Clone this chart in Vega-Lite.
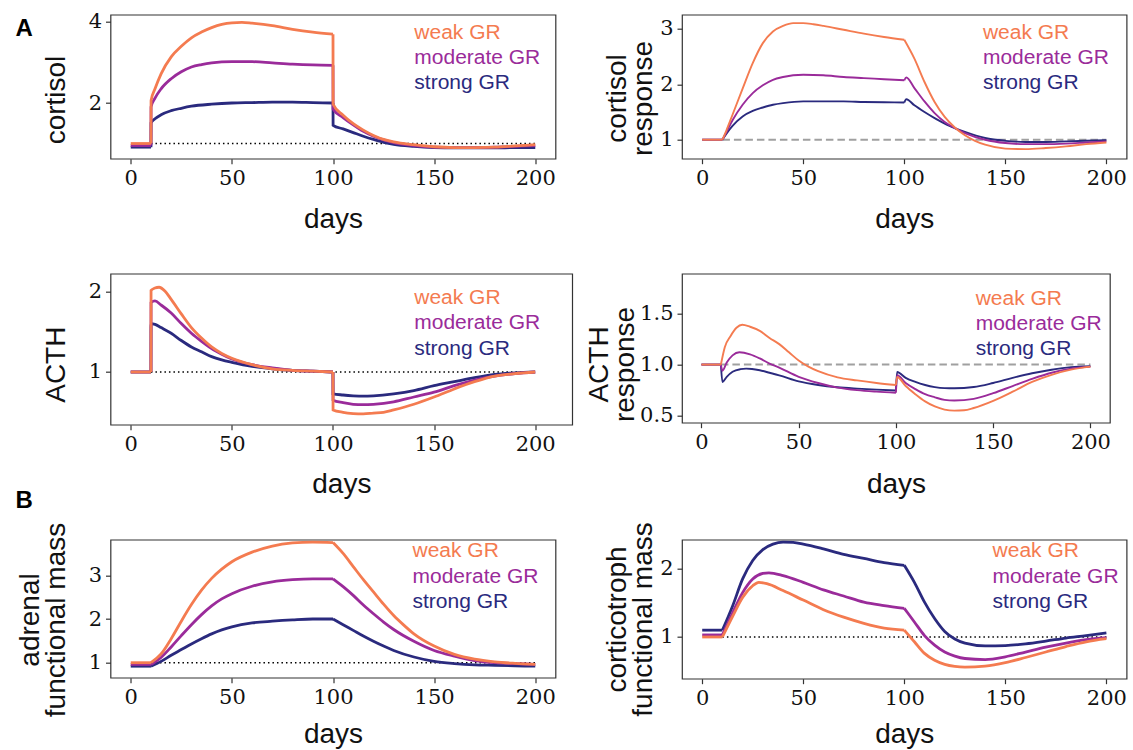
{
"$schema":"https://vega.github.io/schema/vega-lite/v6.json",
"background":"white",
"padding":{"left":14.5,"top":9.7,"right":0,"bottom":0},
"config":{
 "view":{"stroke":"#333","strokeWidth":1.2},
 "axis":{"domain":false,"grid":false,"ticks":true,"tickColor":"#333","tickSize":5,"tickWidth":1.2,"labelFont":"DejaVu Serif","labelFontSize":21,"labelColor":"#111","labelPadding":4,"labelFlush":false,"labelOverlap":false,"titleFont":"Liberation Sans","titleFontSize":28,"titleFontWeight":"normal","titleColor":"#111","titleLineHeight":26,"minExtent":0},
 "axisY":{"minExtent":0}
},
"columns":2,
"bounds":"flush",
"align":{"row":"each","column":"none"},
"spacing":{"row":115,"column":109.5},
"datasets":{
"base":[{"p":1,"d":10,"d2":200,"v":1},{"p":2,"d":10,"d2":200,"v":1},{"p":3,"d":10,"d2":200,"v":1},{"p":4,"d":10,"d2":200,"v":1},{"p":5,"d":10,"d2":200,"v":1},{"p":6,"d":10,"d2":200,"v":1}],
"lab":[
{"p":1,"g":"weak","t":"weak GR","d":140.2,"v":3.59},{"p":1,"g":"moderate","t":"moderate GR","d":140.2,"v":2.97},{"p":1,"g":"strong","t":"strong GR","d":140.2,"v":2.34},
{"p":2,"g":"weak","t":"weak GR","d":138.9,"v":2.82},{"p":2,"g":"moderate","t":"moderate GR","d":138.9,"v":2.357},{"p":2,"g":"strong","t":"strong GR","d":138.9,"v":1.907},
{"p":3,"g":"weak","t":"weak GR","d":140.2,"v":1.847},{"p":3,"g":"moderate","t":"moderate GR","d":140.2,"v":1.529},{"p":3,"g":"strong","t":"strong GR","d":140.2,"v":1.215},
{"p":4,"g":"weak","t":"weak GR","d":141,"v":1.587},{"p":4,"g":"moderate","t":"moderate GR","d":141,"v":1.337},{"p":4,"g":"strong","t":"strong GR","d":141,"v":1.097},
{"p":5,"g":"weak","t":"weak GR","d":139.3,"v":3.42},{"p":5,"g":"moderate","t":"moderate GR","d":139.3,"v":2.83},{"p":5,"g":"strong","t":"strong GR","d":139.3,"v":2.25},
{"p":6,"g":"weak","t":"weak GR","d":143.7,"v":2.17},{"p":6,"g":"moderate","t":"moderate GR","d":143.7,"v":1.795},{"p":6,"g":"strong","t":"strong GR","d":143.7,"v":1.424}
],
"c":[
{"p":1,"g":"strong","s":0,"d":0,"v":0.91},{"p":1,"g":"strong","s":0,"d":10,"v":0.91},
{"p":1,"g":"strong","s":1,"d":10,"v":0.91},{"p":1,"g":"strong","s":1,"d":10.05,"v":1.51},{"p":1,"g":"strong","s":1,"d":12,"v":1.61},{"p":1,"g":"strong","s":1,"d":15,"v":1.71},{"p":1,"g":"strong","s":1,"d":20,"v":1.81},{"p":1,"g":"strong","s":1,"d":25,"v":1.87},{"p":1,"g":"strong","s":1,"d":30,"v":1.92},{"p":1,"g":"strong","s":1,"d":40,"v":1.97},{"p":1,"g":"strong","s":1,"d":50,"v":2.0},{"p":1,"g":"strong","s":1,"d":60,"v":2.01},{"p":1,"g":"strong","s":1,"d":70,"v":2.02},{"p":1,"g":"strong","s":1,"d":80,"v":2.02},{"p":1,"g":"strong","s":1,"d":90,"v":2.01},{"p":1,"g":"strong","s":1,"d":100,"v":2.0},
{"p":1,"g":"strong","s":2,"d":100,"v":2.0},{"p":1,"g":"strong","s":2,"d":100.05,"v":1.45},{"p":1,"g":"strong","s":2,"d":105,"v":1.36},{"p":1,"g":"strong","s":2,"d":110,"v":1.27},{"p":1,"g":"strong","s":2,"d":115,"v":1.18},{"p":1,"g":"strong","s":2,"d":120,"v":1.1},{"p":1,"g":"strong","s":2,"d":125,"v":1.03},{"p":1,"g":"strong","s":2,"d":130,"v":0.98},{"p":1,"g":"strong","s":2,"d":140,"v":0.93},{"p":1,"g":"strong","s":2,"d":150,"v":0.9},{"p":1,"g":"strong","s":2,"d":160,"v":0.89},{"p":1,"g":"strong","s":2,"d":170,"v":0.89},{"p":1,"g":"strong","s":2,"d":180,"v":0.89},{"p":1,"g":"strong","s":2,"d":190,"v":0.9},{"p":1,"g":"strong","s":2,"d":200,"v":0.9},
{"p":1,"g":"moderate","s":0,"d":0,"v":0.95},{"p":1,"g":"moderate","s":0,"d":10,"v":0.95},
{"p":1,"g":"moderate","s":1,"d":10,"v":0.95},{"p":1,"g":"moderate","s":1,"d":10.05,"v":1.9},{"p":1,"g":"moderate","s":1,"d":12,"v":2.12},{"p":1,"g":"moderate","s":1,"d":15,"v":2.35},{"p":1,"g":"moderate","s":1,"d":20,"v":2.6},{"p":1,"g":"moderate","s":1,"d":25,"v":2.77},{"p":1,"g":"moderate","s":1,"d":30,"v":2.89},{"p":1,"g":"moderate","s":1,"d":35,"v":2.95},{"p":1,"g":"moderate","s":1,"d":40,"v":2.99},{"p":1,"g":"moderate","s":1,"d":50,"v":3.02},{"p":1,"g":"moderate","s":1,"d":60,"v":3.02},{"p":1,"g":"moderate","s":1,"d":70,"v":2.99},{"p":1,"g":"moderate","s":1,"d":80,"v":2.96},{"p":1,"g":"moderate","s":1,"d":90,"v":2.94},{"p":1,"g":"moderate","s":1,"d":100,"v":2.93},
{"p":1,"g":"moderate","s":2,"d":100,"v":2.93},{"p":1,"g":"moderate","s":2,"d":100.05,"v":1.85},{"p":1,"g":"moderate","s":2,"d":105,"v":1.64},{"p":1,"g":"moderate","s":2,"d":110,"v":1.46},{"p":1,"g":"moderate","s":2,"d":115,"v":1.3},{"p":1,"g":"moderate","s":2,"d":120,"v":1.18},{"p":1,"g":"moderate","s":2,"d":125,"v":1.09},{"p":1,"g":"moderate","s":2,"d":130,"v":1.02},{"p":1,"g":"moderate","s":2,"d":140,"v":0.95},{"p":1,"g":"moderate","s":2,"d":150,"v":0.91},{"p":1,"g":"moderate","s":2,"d":160,"v":0.9},{"p":1,"g":"moderate","s":2,"d":170,"v":0.9},{"p":1,"g":"moderate","s":2,"d":180,"v":0.91},{"p":1,"g":"moderate","s":2,"d":190,"v":0.93},{"p":1,"g":"moderate","s":2,"d":200,"v":0.95},
{"p":1,"g":"weak","s":0,"d":0,"v":1.0},{"p":1,"g":"weak","s":0,"d":10,"v":1.0},
{"p":1,"g":"weak","s":1,"d":10,"v":1.0},{"p":1,"g":"weak","s":1,"d":10.05,"v":2.06},{"p":1,"g":"weak","s":1,"d":12,"v":2.35},{"p":1,"g":"weak","s":1,"d":15,"v":2.72},{"p":1,"g":"weak","s":1,"d":20,"v":3.14},{"p":1,"g":"weak","s":1,"d":25,"v":3.4},{"p":1,"g":"weak","s":1,"d":30,"v":3.61},{"p":1,"g":"weak","s":1,"d":35,"v":3.75},{"p":1,"g":"weak","s":1,"d":40,"v":3.86},{"p":1,"g":"weak","s":1,"d":45,"v":3.94},{"p":1,"g":"weak","s":1,"d":50,"v":3.98},{"p":1,"g":"weak","s":1,"d":55,"v":3.99},{"p":1,"g":"weak","s":1,"d":60,"v":3.97},{"p":1,"g":"weak","s":1,"d":70,"v":3.91},{"p":1,"g":"weak","s":1,"d":80,"v":3.82},{"p":1,"g":"weak","s":1,"d":90,"v":3.75},{"p":1,"g":"weak","s":1,"d":100,"v":3.7},
{"p":1,"g":"weak","s":2,"d":100,"v":3.7},{"p":1,"g":"weak","s":2,"d":100.05,"v":1.97},{"p":1,"g":"weak","s":2,"d":105,"v":1.7},{"p":1,"g":"weak","s":2,"d":110,"v":1.49},{"p":1,"g":"weak","s":2,"d":115,"v":1.33},{"p":1,"g":"weak","s":2,"d":120,"v":1.2},{"p":1,"g":"weak","s":2,"d":125,"v":1.1},{"p":1,"g":"weak","s":2,"d":130,"v":1.04},{"p":1,"g":"weak","s":2,"d":140,"v":0.97},{"p":1,"g":"weak","s":2,"d":150,"v":0.92},{"p":1,"g":"weak","s":2,"d":160,"v":0.9},{"p":1,"g":"weak","s":2,"d":170,"v":0.9},{"p":1,"g":"weak","s":2,"d":180,"v":0.91},{"p":1,"g":"weak","s":2,"d":190,"v":0.94},{"p":1,"g":"weak","s":2,"d":200,"v":0.97},

{"p":2,"g":"strong","s":0,"d":0,"v":1},{"p":2,"g":"strong","s":0,"d":10,"v":1},
{"p":2,"g":"strong","s":1,"d":10,"v":1},{"p":2,"g":"strong","s":1,"d":12,"v":1.11},{"p":2,"g":"strong","s":1,"d":15,"v":1.25},{"p":2,"g":"strong","s":1,"d":20,"v":1.42},{"p":2,"g":"strong","s":1,"d":25,"v":1.52},{"p":2,"g":"strong","s":1,"d":30,"v":1.58},{"p":2,"g":"strong","s":1,"d":35,"v":1.63},{"p":2,"g":"strong","s":1,"d":40,"v":1.66},{"p":2,"g":"strong","s":1,"d":50,"v":1.69},{"p":2,"g":"strong","s":1,"d":60,"v":1.69},{"p":2,"g":"strong","s":1,"d":70,"v":1.69},{"p":2,"g":"strong","s":1,"d":80,"v":1.68},{"p":2,"g":"strong","s":1,"d":90,"v":1.675},{"p":2,"g":"strong","s":1,"d":100,"v":1.67},
{"p":2,"g":"strong","s":2,"d":100,"v":1.67},{"p":2,"g":"strong","s":2,"d":101,"v":1.73},{"p":2,"g":"strong","s":2,"d":105,"v":1.62},{"p":2,"g":"strong","s":2,"d":110,"v":1.5},{"p":2,"g":"strong","s":2,"d":115,"v":1.39},{"p":2,"g":"strong","s":2,"d":120,"v":1.29},{"p":2,"g":"strong","s":2,"d":125,"v":1.21},{"p":2,"g":"strong","s":2,"d":130,"v":1.14},{"p":2,"g":"strong","s":2,"d":140,"v":1.03},{"p":2,"g":"strong","s":2,"d":150,"v":0.98},{"p":2,"g":"strong","s":2,"d":160,"v":0.96},{"p":2,"g":"strong","s":2,"d":170,"v":0.96},{"p":2,"g":"strong","s":2,"d":180,"v":0.97},{"p":2,"g":"strong","s":2,"d":190,"v":0.98},{"p":2,"g":"strong","s":2,"d":200,"v":0.99},
{"p":2,"g":"moderate","s":0,"d":0,"v":1},{"p":2,"g":"moderate","s":0,"d":10,"v":1},
{"p":2,"g":"moderate","s":1,"d":10,"v":1},{"p":2,"g":"moderate","s":1,"d":12,"v":1.14},{"p":2,"g":"moderate","s":1,"d":15,"v":1.35},{"p":2,"g":"moderate","s":1,"d":20,"v":1.63},{"p":2,"g":"moderate","s":1,"d":25,"v":1.84},{"p":2,"g":"moderate","s":1,"d":30,"v":1.98},{"p":2,"g":"moderate","s":1,"d":35,"v":2.08},{"p":2,"g":"moderate","s":1,"d":40,"v":2.13},{"p":2,"g":"moderate","s":1,"d":50,"v":2.17},{"p":2,"g":"moderate","s":1,"d":60,"v":2.16},{"p":2,"g":"moderate","s":1,"d":70,"v":2.13},{"p":2,"g":"moderate","s":1,"d":80,"v":2.11},{"p":2,"g":"moderate","s":1,"d":90,"v":2.09},{"p":2,"g":"moderate","s":1,"d":100,"v":2.07},
{"p":2,"g":"moderate","s":2,"d":100,"v":2.07},{"p":2,"g":"moderate","s":2,"d":101,"v":2.12},{"p":2,"g":"moderate","s":2,"d":105,"v":1.93},{"p":2,"g":"moderate","s":2,"d":110,"v":1.69},{"p":2,"g":"moderate","s":2,"d":115,"v":1.48},{"p":2,"g":"moderate","s":2,"d":120,"v":1.32},{"p":2,"g":"moderate","s":2,"d":125,"v":1.21},{"p":2,"g":"moderate","s":2,"d":130,"v":1.12},{"p":2,"g":"moderate","s":2,"d":140,"v":1.0},{"p":2,"g":"moderate","s":2,"d":150,"v":0.94},{"p":2,"g":"moderate","s":2,"d":160,"v":0.92},{"p":2,"g":"moderate","s":2,"d":170,"v":0.92},{"p":2,"g":"moderate","s":2,"d":180,"v":0.93},{"p":2,"g":"moderate","s":2,"d":190,"v":0.95},{"p":2,"g":"moderate","s":2,"d":200,"v":0.97},
{"p":2,"g":"weak","s":0,"d":0,"v":1},{"p":2,"g":"weak","s":0,"d":10,"v":1},
{"p":2,"g":"weak","s":1,"d":10,"v":1},{"p":2,"g":"weak","s":1,"d":12,"v":1.17},{"p":2,"g":"weak","s":1,"d":15,"v":1.45},{"p":2,"g":"weak","s":1,"d":20,"v":1.92},{"p":2,"g":"weak","s":1,"d":25,"v":2.38},{"p":2,"g":"weak","s":1,"d":30,"v":2.74},{"p":2,"g":"weak","s":1,"d":35,"v":2.95},{"p":2,"g":"weak","s":1,"d":40,"v":3.05},{"p":2,"g":"weak","s":1,"d":45,"v":3.1},{"p":2,"g":"weak","s":1,"d":50,"v":3.1},{"p":2,"g":"weak","s":1,"d":55,"v":3.08},{"p":2,"g":"weak","s":1,"d":60,"v":3.05},{"p":2,"g":"weak","s":1,"d":70,"v":2.98},{"p":2,"g":"weak","s":1,"d":80,"v":2.91},{"p":2,"g":"weak","s":1,"d":90,"v":2.85},{"p":2,"g":"weak","s":1,"d":100,"v":2.8},
{"p":2,"g":"weak","s":2,"d":100,"v":2.8},{"p":2,"g":"weak","s":2,"d":105,"v":2.46},{"p":2,"g":"weak","s":2,"d":110,"v":2.04},{"p":2,"g":"weak","s":2,"d":115,"v":1.68},{"p":2,"g":"weak","s":2,"d":120,"v":1.41},{"p":2,"g":"weak","s":2,"d":125,"v":1.22},{"p":2,"g":"weak","s":2,"d":130,"v":1.08},{"p":2,"g":"weak","s":2,"d":135,"v":0.98},{"p":2,"g":"weak","s":2,"d":140,"v":0.91},{"p":2,"g":"weak","s":2,"d":150,"v":0.84},{"p":2,"g":"weak","s":2,"d":160,"v":0.83},{"p":2,"g":"weak","s":2,"d":170,"v":0.85},{"p":2,"g":"weak","s":2,"d":180,"v":0.88},{"p":2,"g":"weak","s":2,"d":190,"v":0.92},{"p":2,"g":"weak","s":2,"d":200,"v":0.95},

{"p":3,"g":"strong","s":0,"d":0,"v":1},{"p":3,"g":"strong","s":0,"d":10,"v":1},
{"p":3,"g":"strong","s":1,"d":10,"v":1},{"p":3,"g":"strong","s":1,"d":10.05,"v":1.6},{"p":3,"g":"strong","s":1,"d":12,"v":1.59},{"p":3,"g":"strong","s":1,"d":15,"v":1.55},{"p":3,"g":"strong","s":1,"d":20,"v":1.48},{"p":3,"g":"strong","s":1,"d":25,"v":1.39},{"p":3,"g":"strong","s":1,"d":30,"v":1.31},{"p":3,"g":"strong","s":1,"d":35,"v":1.25},{"p":3,"g":"strong","s":1,"d":40,"v":1.19},{"p":3,"g":"strong","s":1,"d":45,"v":1.15},{"p":3,"g":"strong","s":1,"d":50,"v":1.12},{"p":3,"g":"strong","s":1,"d":60,"v":1.07},{"p":3,"g":"strong","s":1,"d":70,"v":1.04},{"p":3,"g":"strong","s":1,"d":80,"v":1.02},{"p":3,"g":"strong","s":1,"d":90,"v":1.01},{"p":3,"g":"strong","s":1,"d":100,"v":1.0},
{"p":3,"g":"strong","s":2,"d":100,"v":1.0},{"p":3,"g":"strong","s":2,"d":100.05,"v":0.73},{"p":3,"g":"strong","s":2,"d":105,"v":0.715},{"p":3,"g":"strong","s":2,"d":110,"v":0.705},{"p":3,"g":"strong","s":2,"d":115,"v":0.7},{"p":3,"g":"strong","s":2,"d":120,"v":0.705},{"p":3,"g":"strong","s":2,"d":130,"v":0.73},{"p":3,"g":"strong","s":2,"d":140,"v":0.77},{"p":3,"g":"strong","s":2,"d":150,"v":0.83},{"p":3,"g":"strong","s":2,"d":160,"v":0.88},{"p":3,"g":"strong","s":2,"d":170,"v":0.93},{"p":3,"g":"strong","s":2,"d":180,"v":0.97},{"p":3,"g":"strong","s":2,"d":190,"v":0.99},{"p":3,"g":"strong","s":2,"d":200,"v":1.0},
{"p":3,"g":"moderate","s":0,"d":0,"v":1},{"p":3,"g":"moderate","s":0,"d":10,"v":1},
{"p":3,"g":"moderate","s":1,"d":10,"v":1},{"p":3,"g":"moderate","s":1,"d":10.05,"v":1.86},{"p":3,"g":"moderate","s":1,"d":12,"v":1.88},{"p":3,"g":"moderate","s":1,"d":15,"v":1.83},{"p":3,"g":"moderate","s":1,"d":20,"v":1.73},{"p":3,"g":"moderate","s":1,"d":25,"v":1.6},{"p":3,"g":"moderate","s":1,"d":30,"v":1.48},{"p":3,"g":"moderate","s":1,"d":35,"v":1.38},{"p":3,"g":"moderate","s":1,"d":40,"v":1.29},{"p":3,"g":"moderate","s":1,"d":45,"v":1.22},{"p":3,"g":"moderate","s":1,"d":50,"v":1.16},{"p":3,"g":"moderate","s":1,"d":60,"v":1.09},{"p":3,"g":"moderate","s":1,"d":70,"v":1.05},{"p":3,"g":"moderate","s":1,"d":80,"v":1.02},{"p":3,"g":"moderate","s":1,"d":90,"v":1.01},{"p":3,"g":"moderate","s":1,"d":100,"v":1.0},
{"p":3,"g":"moderate","s":2,"d":100,"v":1.0},{"p":3,"g":"moderate","s":2,"d":100.05,"v":0.65},{"p":3,"g":"moderate","s":2,"d":105,"v":0.62},{"p":3,"g":"moderate","s":2,"d":110,"v":0.6},{"p":3,"g":"moderate","s":2,"d":115,"v":0.595},{"p":3,"g":"moderate","s":2,"d":120,"v":0.6},{"p":3,"g":"moderate","s":2,"d":130,"v":0.63},{"p":3,"g":"moderate","s":2,"d":140,"v":0.69},{"p":3,"g":"moderate","s":2,"d":150,"v":0.75},{"p":3,"g":"moderate","s":2,"d":160,"v":0.83},{"p":3,"g":"moderate","s":2,"d":170,"v":0.9},{"p":3,"g":"moderate","s":2,"d":180,"v":0.95},{"p":3,"g":"moderate","s":2,"d":190,"v":0.98},{"p":3,"g":"moderate","s":2,"d":200,"v":1.0},
{"p":3,"g":"weak","s":0,"d":0,"v":1},{"p":3,"g":"weak","s":0,"d":10,"v":1},
{"p":3,"g":"weak","s":1,"d":10,"v":1},{"p":3,"g":"weak","s":1,"d":10.05,"v":2.01},{"p":3,"g":"weak","s":1,"d":12,"v":2.04},{"p":3,"g":"weak","s":1,"d":14,"v":2.05},{"p":3,"g":"weak","s":1,"d":17,"v":2.0},{"p":3,"g":"weak","s":1,"d":20,"v":1.9},{"p":3,"g":"weak","s":1,"d":25,"v":1.72},{"p":3,"g":"weak","s":1,"d":30,"v":1.55},{"p":3,"g":"weak","s":1,"d":35,"v":1.42},{"p":3,"g":"weak","s":1,"d":40,"v":1.31},{"p":3,"g":"weak","s":1,"d":45,"v":1.23},{"p":3,"g":"weak","s":1,"d":50,"v":1.17},{"p":3,"g":"weak","s":1,"d":60,"v":1.09},{"p":3,"g":"weak","s":1,"d":70,"v":1.04},{"p":3,"g":"weak","s":1,"d":80,"v":1.02},{"p":3,"g":"weak","s":1,"d":90,"v":1.01},{"p":3,"g":"weak","s":1,"d":100,"v":1.0},
{"p":3,"g":"weak","s":2,"d":100,"v":1.0},{"p":3,"g":"weak","s":2,"d":100.05,"v":0.53},{"p":3,"g":"weak","s":2,"d":105,"v":0.5},{"p":3,"g":"weak","s":2,"d":110,"v":0.485},{"p":3,"g":"weak","s":2,"d":115,"v":0.48},{"p":3,"g":"weak","s":2,"d":120,"v":0.49},{"p":3,"g":"weak","s":2,"d":125,"v":0.5},{"p":3,"g":"weak","s":2,"d":130,"v":0.53},{"p":3,"g":"weak","s":2,"d":140,"v":0.6},{"p":3,"g":"weak","s":2,"d":150,"v":0.69},{"p":3,"g":"weak","s":2,"d":160,"v":0.79},{"p":3,"g":"weak","s":2,"d":170,"v":0.88},{"p":3,"g":"weak","s":2,"d":180,"v":0.95},{"p":3,"g":"weak","s":2,"d":190,"v":0.98},{"p":3,"g":"weak","s":2,"d":200,"v":1.0},

{"p":4,"g":"strong","s":0,"d":0,"v":1},{"p":4,"g":"strong","s":0,"d":10,"v":1},
{"p":4,"g":"strong","s":1,"d":10,"v":1},{"p":4,"g":"strong","s":1,"d":10.8,"v":0.83},{"p":4,"g":"strong","s":1,"d":13,"v":0.88},{"p":4,"g":"strong","s":1,"d":16,"v":0.93},{"p":4,"g":"strong","s":1,"d":20,"v":0.955},{"p":4,"g":"strong","s":1,"d":23,"v":0.96},{"p":4,"g":"strong","s":1,"d":26,"v":0.957},{"p":4,"g":"strong","s":1,"d":30,"v":0.944},{"p":4,"g":"strong","s":1,"d":35,"v":0.92},{"p":4,"g":"strong","s":1,"d":40,"v":0.895},{"p":4,"g":"strong","s":1,"d":50,"v":0.835},{"p":4,"g":"strong","s":1,"d":60,"v":0.8},{"p":4,"g":"strong","s":1,"d":70,"v":0.778},{"p":4,"g":"strong","s":1,"d":80,"v":0.765},{"p":4,"g":"strong","s":1,"d":90,"v":0.755},{"p":4,"g":"strong","s":1,"d":100,"v":0.747},
{"p":4,"g":"strong","s":2,"d":100,"v":0.747},{"p":4,"g":"strong","s":2,"d":100.6,"v":0.928},{"p":4,"g":"strong","s":2,"d":105,"v":0.87},{"p":4,"g":"strong","s":2,"d":110,"v":0.83},{"p":4,"g":"strong","s":2,"d":115,"v":0.8},{"p":4,"g":"strong","s":2,"d":120,"v":0.78},{"p":4,"g":"strong","s":2,"d":125,"v":0.77},{"p":4,"g":"strong","s":2,"d":130,"v":0.768},{"p":4,"g":"strong","s":2,"d":140,"v":0.78},{"p":4,"g":"strong","s":2,"d":150,"v":0.82},{"p":4,"g":"strong","s":2,"d":160,"v":0.87},{"p":4,"g":"strong","s":2,"d":170,"v":0.915},{"p":4,"g":"strong","s":2,"d":180,"v":0.95},{"p":4,"g":"strong","s":2,"d":190,"v":0.975},{"p":4,"g":"strong","s":2,"d":200,"v":0.985},
{"p":4,"g":"moderate","s":0,"d":0,"v":1},{"p":4,"g":"moderate","s":0,"d":10,"v":1},
{"p":4,"g":"moderate","s":1,"d":10,"v":1},{"p":4,"g":"moderate","s":1,"d":10.8,"v":0.94},{"p":4,"g":"moderate","s":1,"d":13,"v":1.02},{"p":4,"g":"moderate","s":1,"d":16,"v":1.09},{"p":4,"g":"moderate","s":1,"d":19.5,"v":1.12},{"p":4,"g":"moderate","s":1,"d":25,"v":1.1},{"p":4,"g":"moderate","s":1,"d":30,"v":1.06},{"p":4,"g":"moderate","s":1,"d":35,"v":1.01},{"p":4,"g":"moderate","s":1,"d":40,"v":0.97},{"p":4,"g":"moderate","s":1,"d":50,"v":0.88},{"p":4,"g":"moderate","s":1,"d":60,"v":0.82},{"p":4,"g":"moderate","s":1,"d":70,"v":0.775},{"p":4,"g":"moderate","s":1,"d":80,"v":0.75},{"p":4,"g":"moderate","s":1,"d":90,"v":0.735},{"p":4,"g":"moderate","s":1,"d":100,"v":0.724},
{"p":4,"g":"moderate","s":2,"d":100,"v":0.724},{"p":4,"g":"moderate","s":2,"d":100.6,"v":0.895},{"p":4,"g":"moderate","s":2,"d":105,"v":0.82},{"p":4,"g":"moderate","s":2,"d":110,"v":0.76},{"p":4,"g":"moderate","s":2,"d":115,"v":0.71},{"p":4,"g":"moderate","s":2,"d":120,"v":0.68},{"p":4,"g":"moderate","s":2,"d":125,"v":0.655},{"p":4,"g":"moderate","s":2,"d":130,"v":0.648},{"p":4,"g":"moderate","s":2,"d":140,"v":0.665},{"p":4,"g":"moderate","s":2,"d":150,"v":0.72},{"p":4,"g":"moderate","s":2,"d":160,"v":0.79},{"p":4,"g":"moderate","s":2,"d":170,"v":0.86},{"p":4,"g":"moderate","s":2,"d":180,"v":0.92},{"p":4,"g":"moderate","s":2,"d":190,"v":0.96},{"p":4,"g":"moderate","s":2,"d":200,"v":0.98},
{"p":4,"g":"weak","s":0,"d":0,"v":1},{"p":4,"g":"weak","s":0,"d":10,"v":1},
{"p":4,"g":"weak","s":1,"d":10,"v":1},{"p":4,"g":"weak","s":1,"d":12,"v":1.17},{"p":4,"g":"weak","s":1,"d":15,"v":1.28},{"p":4,"g":"weak","s":1,"d":18,"v":1.36},{"p":4,"g":"weak","s":1,"d":21,"v":1.39},{"p":4,"g":"weak","s":1,"d":25,"v":1.37},{"p":4,"g":"weak","s":1,"d":30,"v":1.33},{"p":4,"g":"weak","s":1,"d":35,"v":1.26},{"p":4,"g":"weak","s":1,"d":40,"v":1.2},{"p":4,"g":"weak","s":1,"d":45,"v":1.12},{"p":4,"g":"weak","s":1,"d":50,"v":1.04},{"p":4,"g":"weak","s":1,"d":55,"v":0.98},{"p":4,"g":"weak","s":1,"d":60,"v":0.935},{"p":4,"g":"weak","s":1,"d":70,"v":0.875},{"p":4,"g":"weak","s":1,"d":80,"v":0.845},{"p":4,"g":"weak","s":1,"d":90,"v":0.82},{"p":4,"g":"weak","s":1,"d":100,"v":0.8},
{"p":4,"g":"weak","s":2,"d":100,"v":0.8},{"p":4,"g":"weak","s":2,"d":100.6,"v":0.878},{"p":4,"g":"weak","s":2,"d":105,"v":0.79},{"p":4,"g":"weak","s":2,"d":110,"v":0.71},{"p":4,"g":"weak","s":2,"d":115,"v":0.64},{"p":4,"g":"weak","s":2,"d":120,"v":0.59},{"p":4,"g":"weak","s":2,"d":125,"v":0.56},{"p":4,"g":"weak","s":2,"d":130,"v":0.55},{"p":4,"g":"weak","s":2,"d":135,"v":0.553},{"p":4,"g":"weak","s":2,"d":140,"v":0.575},{"p":4,"g":"weak","s":2,"d":150,"v":0.645},{"p":4,"g":"weak","s":2,"d":160,"v":0.735},{"p":4,"g":"weak","s":2,"d":170,"v":0.83},{"p":4,"g":"weak","s":2,"d":180,"v":0.9},{"p":4,"g":"weak","s":2,"d":190,"v":0.95},{"p":4,"g":"weak","s":2,"d":200,"v":0.98},

{"p":5,"g":"strong","s":0,"d":0,"v":0.92},{"p":5,"g":"strong","s":0,"d":10,"v":0.92},
{"p":5,"g":"strong","s":1,"d":10,"v":0.92},{"p":5,"g":"strong","s":1,"d":15,"v":1.03},{"p":5,"g":"strong","s":1,"d":20,"v":1.17},{"p":5,"g":"strong","s":1,"d":25,"v":1.3},{"p":5,"g":"strong","s":1,"d":30,"v":1.43},{"p":5,"g":"strong","s":1,"d":35,"v":1.55},{"p":5,"g":"strong","s":1,"d":40,"v":1.66},{"p":5,"g":"strong","s":1,"d":45,"v":1.75},{"p":5,"g":"strong","s":1,"d":50,"v":1.82},{"p":5,"g":"strong","s":1,"d":60,"v":1.91},{"p":5,"g":"strong","s":1,"d":70,"v":1.95},{"p":5,"g":"strong","s":1,"d":80,"v":1.98},{"p":5,"g":"strong","s":1,"d":90,"v":2.0},{"p":5,"g":"strong","s":1,"d":100,"v":2.0},
{"p":5,"g":"strong","s":2,"d":100,"v":2.0},{"p":5,"g":"strong","s":2,"d":105,"v":1.87},{"p":5,"g":"strong","s":2,"d":110,"v":1.74},{"p":5,"g":"strong","s":2,"d":115,"v":1.61},{"p":5,"g":"strong","s":2,"d":120,"v":1.49},{"p":5,"g":"strong","s":2,"d":125,"v":1.38},{"p":5,"g":"strong","s":2,"d":130,"v":1.28},{"p":5,"g":"strong","s":2,"d":140,"v":1.13},{"p":5,"g":"strong","s":2,"d":150,"v":1.03},{"p":5,"g":"strong","s":2,"d":160,"v":0.98},{"p":5,"g":"strong","s":2,"d":170,"v":0.95},{"p":5,"g":"strong","s":2,"d":180,"v":0.94},{"p":5,"g":"strong","s":2,"d":190,"v":0.93},{"p":5,"g":"strong","s":2,"d":200,"v":0.92},
{"p":5,"g":"moderate","s":0,"d":0,"v":0.96},{"p":5,"g":"moderate","s":0,"d":10,"v":0.96},
{"p":5,"g":"moderate","s":1,"d":10,"v":0.96},{"p":5,"g":"moderate","s":1,"d":15,"v":1.12},{"p":5,"g":"moderate","s":1,"d":20,"v":1.36},{"p":5,"g":"moderate","s":1,"d":25,"v":1.62},{"p":5,"g":"moderate","s":1,"d":30,"v":1.87},{"p":5,"g":"moderate","s":1,"d":35,"v":2.1},{"p":5,"g":"moderate","s":1,"d":40,"v":2.3},{"p":5,"g":"moderate","s":1,"d":45,"v":2.46},{"p":5,"g":"moderate","s":1,"d":50,"v":2.58},{"p":5,"g":"moderate","s":1,"d":60,"v":2.75},{"p":5,"g":"moderate","s":1,"d":70,"v":2.85},{"p":5,"g":"moderate","s":1,"d":80,"v":2.9},{"p":5,"g":"moderate","s":1,"d":90,"v":2.92},{"p":5,"g":"moderate","s":1,"d":100,"v":2.92},
{"p":5,"g":"moderate","s":2,"d":100,"v":2.92},{"p":5,"g":"moderate","s":2,"d":105,"v":2.74},{"p":5,"g":"moderate","s":2,"d":110,"v":2.54},{"p":5,"g":"moderate","s":2,"d":115,"v":2.32},{"p":5,"g":"moderate","s":2,"d":120,"v":2.12},{"p":5,"g":"moderate","s":2,"d":125,"v":1.93},{"p":5,"g":"moderate","s":2,"d":130,"v":1.76},{"p":5,"g":"moderate","s":2,"d":140,"v":1.49},{"p":5,"g":"moderate","s":2,"d":150,"v":1.28},{"p":5,"g":"moderate","s":2,"d":160,"v":1.15},{"p":5,"g":"moderate","s":2,"d":170,"v":1.05},{"p":5,"g":"moderate","s":2,"d":180,"v":1.0},{"p":5,"g":"moderate","s":2,"d":190,"v":0.98},{"p":5,"g":"moderate","s":2,"d":200,"v":0.96},
{"p":5,"g":"weak","s":0,"d":0,"v":1.0},{"p":5,"g":"weak","s":0,"d":10,"v":1.0},
{"p":5,"g":"weak","s":1,"d":10,"v":1.0},{"p":5,"g":"weak","s":1,"d":15,"v":1.2},{"p":5,"g":"weak","s":1,"d":20,"v":1.55},{"p":5,"g":"weak","s":1,"d":25,"v":1.95},{"p":5,"g":"weak","s":1,"d":30,"v":2.33},{"p":5,"g":"weak","s":1,"d":35,"v":2.66},{"p":5,"g":"weak","s":1,"d":40,"v":2.93},{"p":5,"g":"weak","s":1,"d":45,"v":3.14},{"p":5,"g":"weak","s":1,"d":50,"v":3.31},{"p":5,"g":"weak","s":1,"d":60,"v":3.53},{"p":5,"g":"weak","s":1,"d":70,"v":3.67},{"p":5,"g":"weak","s":1,"d":80,"v":3.74},{"p":5,"g":"weak","s":1,"d":90,"v":3.76},{"p":5,"g":"weak","s":1,"d":100,"v":3.75},
{"p":5,"g":"weak","s":2,"d":100,"v":3.75},{"p":5,"g":"weak","s":2,"d":105,"v":3.5},{"p":5,"g":"weak","s":2,"d":110,"v":3.2},{"p":5,"g":"weak","s":2,"d":115,"v":2.9},{"p":5,"g":"weak","s":2,"d":120,"v":2.62},{"p":5,"g":"weak","s":2,"d":125,"v":2.34},{"p":5,"g":"weak","s":2,"d":130,"v":2.08},{"p":5,"g":"weak","s":2,"d":135,"v":1.86},{"p":5,"g":"weak","s":2,"d":140,"v":1.66},{"p":5,"g":"weak","s":2,"d":150,"v":1.38},{"p":5,"g":"weak","s":2,"d":160,"v":1.19},{"p":5,"g":"weak","s":2,"d":170,"v":1.08},{"p":5,"g":"weak","s":2,"d":180,"v":1.02},{"p":5,"g":"weak","s":2,"d":190,"v":0.985},{"p":5,"g":"weak","s":2,"d":200,"v":0.96},

{"p":6,"g":"strong","s":0,"d":0,"v":1.1},{"p":6,"g":"strong","s":0,"d":10,"v":1.1},
{"p":6,"g":"strong","s":1,"d":10,"v":1.1},{"p":6,"g":"strong","s":1,"d":15,"v":1.45},{"p":6,"g":"strong","s":1,"d":20,"v":1.85},{"p":6,"g":"strong","s":1,"d":25,"v":2.12},{"p":6,"g":"strong","s":1,"d":30,"v":2.28},{"p":6,"g":"strong","s":1,"d":35,"v":2.36},{"p":6,"g":"strong","s":1,"d":40,"v":2.39},{"p":6,"g":"strong","s":1,"d":45,"v":2.385},{"p":6,"g":"strong","s":1,"d":50,"v":2.36},{"p":6,"g":"strong","s":1,"d":60,"v":2.29},{"p":6,"g":"strong","s":1,"d":70,"v":2.21},{"p":6,"g":"strong","s":1,"d":80,"v":2.15},{"p":6,"g":"strong","s":1,"d":90,"v":2.09},{"p":6,"g":"strong","s":1,"d":100,"v":2.05},
{"p":6,"g":"strong","s":2,"d":100,"v":2.05},{"p":6,"g":"strong","s":2,"d":105,"v":1.8},{"p":6,"g":"strong","s":2,"d":110,"v":1.51},{"p":6,"g":"strong","s":2,"d":115,"v":1.27},{"p":6,"g":"strong","s":2,"d":120,"v":1.08},{"p":6,"g":"strong","s":2,"d":125,"v":0.97},{"p":6,"g":"strong","s":2,"d":130,"v":0.91},{"p":6,"g":"strong","s":2,"d":140,"v":0.87},{"p":6,"g":"strong","s":2,"d":150,"v":0.875},{"p":6,"g":"strong","s":2,"d":160,"v":0.9},{"p":6,"g":"strong","s":2,"d":170,"v":0.94},{"p":6,"g":"strong","s":2,"d":180,"v":0.985},{"p":6,"g":"strong","s":2,"d":190,"v":1.02},{"p":6,"g":"strong","s":2,"d":200,"v":1.06},
{"p":6,"g":"moderate","s":0,"d":0,"v":1.03},{"p":6,"g":"moderate","s":0,"d":10,"v":1.03},
{"p":6,"g":"moderate","s":1,"d":10,"v":1.03},{"p":6,"g":"moderate","s":1,"d":15,"v":1.35},{"p":6,"g":"moderate","s":1,"d":20,"v":1.65},{"p":6,"g":"moderate","s":1,"d":25,"v":1.85},{"p":6,"g":"moderate","s":1,"d":30,"v":1.93},{"p":6,"g":"moderate","s":1,"d":33,"v":1.94},{"p":6,"g":"moderate","s":1,"d":40,"v":1.9},{"p":6,"g":"moderate","s":1,"d":50,"v":1.8},{"p":6,"g":"moderate","s":1,"d":60,"v":1.69},{"p":6,"g":"moderate","s":1,"d":70,"v":1.6},{"p":6,"g":"moderate","s":1,"d":80,"v":1.51},{"p":6,"g":"moderate","s":1,"d":90,"v":1.46},{"p":6,"g":"moderate","s":1,"d":100,"v":1.42},
{"p":6,"g":"moderate","s":2,"d":100,"v":1.42},{"p":6,"g":"moderate","s":2,"d":105,"v":1.22},{"p":6,"g":"moderate","s":2,"d":110,"v":1.02},{"p":6,"g":"moderate","s":2,"d":115,"v":0.88},{"p":6,"g":"moderate","s":2,"d":120,"v":0.78},{"p":6,"g":"moderate","s":2,"d":125,"v":0.72},{"p":6,"g":"moderate","s":2,"d":130,"v":0.685},{"p":6,"g":"moderate","s":2,"d":140,"v":0.67},{"p":6,"g":"moderate","s":2,"d":150,"v":0.71},{"p":6,"g":"moderate","s":2,"d":160,"v":0.78},{"p":6,"g":"moderate","s":2,"d":170,"v":0.85},{"p":6,"g":"moderate","s":2,"d":180,"v":0.91},{"p":6,"g":"moderate","s":2,"d":190,"v":0.96},{"p":6,"g":"moderate","s":2,"d":200,"v":0.99},
{"p":6,"g":"weak","s":0,"d":0,"v":1.0},{"p":6,"g":"weak","s":0,"d":10,"v":1.0},
{"p":6,"g":"weak","s":1,"d":10,"v":1.0},{"p":6,"g":"weak","s":1,"d":15,"v":1.3},{"p":6,"g":"weak","s":1,"d":20,"v":1.58},{"p":6,"g":"weak","s":1,"d":25,"v":1.75},{"p":6,"g":"weak","s":1,"d":28,"v":1.8},{"p":6,"g":"weak","s":1,"d":32,"v":1.78},{"p":6,"g":"weak","s":1,"d":40,"v":1.68},{"p":6,"g":"weak","s":1,"d":50,"v":1.54},{"p":6,"g":"weak","s":1,"d":60,"v":1.4},{"p":6,"g":"weak","s":1,"d":70,"v":1.29},{"p":6,"g":"weak","s":1,"d":80,"v":1.2},{"p":6,"g":"weak","s":1,"d":90,"v":1.13},{"p":6,"g":"weak","s":1,"d":100,"v":1.1},
{"p":6,"g":"weak","s":2,"d":100,"v":1.1},{"p":6,"g":"weak","s":2,"d":105,"v":0.93},{"p":6,"g":"weak","s":2,"d":110,"v":0.76},{"p":6,"g":"weak","s":2,"d":115,"v":0.66},{"p":6,"g":"weak","s":2,"d":120,"v":0.6},{"p":6,"g":"weak","s":2,"d":125,"v":0.57},{"p":6,"g":"weak","s":2,"d":130,"v":0.56},{"p":6,"g":"weak","s":2,"d":140,"v":0.575},{"p":6,"g":"weak","s":2,"d":150,"v":0.625},{"p":6,"g":"weak","s":2,"d":160,"v":0.7},{"p":6,"g":"weak","s":2,"d":170,"v":0.78},{"p":6,"g":"weak","s":2,"d":180,"v":0.86},{"p":6,"g":"weak","s":2,"d":190,"v":0.93},{"p":6,"g":"weak","s":2,"d":200,"v":0.975}
]
},
"concat":[
{
 "width":445,"height":144,
 "title":{"text":"A","anchor":"start","frame":"group","orient":"top","offset":0,"dx":-95,"dy":49.3,"baseline":"alphabetic","font":"Liberation Sans","fontSize":24,"fontWeight":"bold","color":"#000"},
 "encoding":{
  "x":{"field":"d","type":"quantitative","scale":{"domain":[-10,210],"nice":false,"zero":false},"axis":{"values":[0,50,100,150,200],"title":"days","titlePadding":16.6}},
  "y":{"field":"v","type":"quantitative","scale":{"domain":[0.625,4.18],"nice":false,"zero":false},"axis":{"values":[2,4],"title":"cortisol","titlePadding":17.7,"titleY":84.8}}
 },
 "layer":[
  {"data":{"name":"base"},"transform":[{"filter":"datum.p==1"}],"mark":{"type":"rule","color":"#000","strokeWidth":1.4,"strokeDash":[1.5,3]},"encoding":{"x2":{"field":"d2"}}},
  {"data":{"name":"c"},"transform":[{"filter":"datum.p==1"}],"mark":{"type":"line","interpolate":"monotone","strokeWidth":2.8},"encoding":{"color":{"field":"g","type":"nominal","scale":{"domain":["weak","moderate","strong"],"range":["#f47b50","#9a2b9a","#2a2a7e"]},"legend":null},"detail":{"field":"s"}}},
  {"data":{"name":"lab"},"transform":[{"filter":"datum.p==1"}],"mark":{"type":"text","align":"left","baseline":"alphabetic","font":"Liberation Sans","fontSize":21},"encoding":{"text":{"field":"t"},"color":{"field":"g","type":"nominal","legend":null}}}
 ]
},
{
 "width":444.6,"height":144,
 "encoding":{
  "x":{"field":"d","type":"quantitative","scale":{"domain":[-10,210],"nice":false,"zero":false},"axis":{"values":[0,50,100,150,200],"title":"days","titlePadding":16.6}},
  "y":{"field":"v","type":"quantitative","scale":{"domain":[0.658,3.252],"nice":false,"zero":false},"axis":{"values":[1,2,3],"title":["cortisol","response"],"titlePadding":2.6,"titleY":83.3}}
 },
 "layer":[
  {"data":{"name":"base"},"transform":[{"filter":"datum.p==2"}],"mark":{"type":"rule","color":"#a0a0a0","strokeWidth":2,"strokeDash":[7.5,4]},"encoding":{"x2":{"field":"d2"}}},
  {"data":{"name":"c"},"transform":[{"filter":"datum.p==2"}],"mark":{"type":"line","interpolate":"monotone","strokeWidth":1.9},"encoding":{"color":{"field":"g","type":"nominal","scale":{"domain":["weak","moderate","strong"],"range":["#f47b50","#9a2b9a","#2a2a7e"]},"legend":null},"detail":{"field":"s"}}},
  {"data":{"name":"lab"},"transform":[{"filter":"datum.p==2"}],"mark":{"type":"text","align":"left","baseline":"alphabetic","font":"Liberation Sans","fontSize":21},"encoding":{"text":{"field":"t"},"color":{"field":"g","type":"nominal","legend":null}}}
 ]
},
{
 "width":461.7,"height":151,
 "encoding":{
  "x":{"field":"d","type":"quantitative","scale":{"domain":[-10,218.3],"nice":false,"zero":false},"axis":{"values":[0,50,100,150,200],"title":"days","titlePadding":15.6}},
  "y":{"field":"v","type":"quantitative","scale":{"domain":[0.347,2.218],"nice":false,"zero":false},"axis":{"values":[1,2],"title":"ACTH","titlePadding":17.7,"titleY":90.5}}
 },
 "layer":[
  {"data":{"name":"base"},"transform":[{"filter":"datum.p==3"}],"mark":{"type":"rule","color":"#000","strokeWidth":1.4,"strokeDash":[1.5,3]},"encoding":{"x2":{"field":"d2"}}},
  {"data":{"name":"c"},"transform":[{"filter":"datum.p==3"}],"mark":{"type":"line","interpolate":"monotone","strokeWidth":2.8},"encoding":{"color":{"field":"g","type":"nominal","scale":{"domain":["weak","moderate","strong"],"range":["#f47b50","#9a2b9a","#2a2a7e"]},"legend":null},"detail":{"field":"s"}}},
  {"data":{"name":"lab"},"transform":[{"filter":"datum.p==3"}],"mark":{"type":"text","align":"left","baseline":"alphabetic","font":"Liberation Sans","fontSize":21},"encoding":{"text":{"field":"t"},"color":{"field":"g","type":"nominal","legend":null}}}
 ]
},
{
 "width":427.9,"height":149,
 "encoding":{
  "x":{"field":"d","type":"quantitative","scale":{"domain":[-10,210],"nice":false,"zero":false},"axis":{"values":[0,50,100,150,200],"title":"days","titlePadding":17.6}},
  "y":{"field":"v","type":"quantitative","scale":{"domain":[0.4315,1.889],"nice":false,"zero":false},"axis":{"values":[0.5,1,1.5],"format":".1f","title":["ACTH","response"],"titlePadding":0,"titleY":90.3}}
 },
 "layer":[
  {"data":{"name":"base"},"transform":[{"filter":"datum.p==4"}],"mark":{"type":"rule","color":"#a0a0a0","strokeWidth":2,"strokeDash":[7.5,4]},"encoding":{"x2":{"field":"d2"}}},
  {"data":{"name":"c"},"transform":[{"filter":"datum.p==4"}],"mark":{"type":"line","interpolate":"monotone","strokeWidth":1.9},"encoding":{"color":{"field":"g","type":"nominal","scale":{"domain":["weak","moderate","strong"],"range":["#f47b50","#9a2b9a","#2a2a7e"]},"legend":null},"detail":{"field":"s"}}},
  {"data":{"name":"lab"},"transform":[{"filter":"datum.p==4"}],"mark":{"type":"text","align":"left","baseline":"alphabetic","font":"Liberation Sans","fontSize":21},"encoding":{"text":{"field":"t"},"color":{"field":"g","type":"nominal","legend":null}}}
 ]
},
{
 "width":445,"height":138,
 "title":{"text":"B","anchor":"start","frame":"group","orient":"top","offset":0,"dx":-95,"dy":9.5,"baseline":"alphabetic","font":"Liberation Sans","fontSize":24,"fontWeight":"bold","color":"#000"},
 "encoding":{
  "x":{"field":"d","type":"quantitative","scale":{"domain":[-10,210],"nice":false,"zero":false},"axis":{"values":[0,50,100,150,200],"title":"days","titlePadding":12.6}},
  "y":{"field":"v","type":"quantitative","scale":{"domain":[0.657,3.815],"nice":false,"zero":false},"axis":{"values":[1,2,3],"title":["adrenal","functional mass"],"titlePadding":17.7,"titleY":79.8}}
 },
 "layer":[
  {"data":{"name":"base"},"transform":[{"filter":"datum.p==5"}],"mark":{"type":"rule","color":"#000","strokeWidth":1.4,"strokeDash":[1.5,3]},"encoding":{"x2":{"field":"d2"}}},
  {"data":{"name":"c"},"transform":[{"filter":"datum.p==5"}],"mark":{"type":"line","interpolate":"monotone","strokeWidth":2.8},"encoding":{"color":{"field":"g","type":"nominal","scale":{"domain":["weak","moderate","strong"],"range":["#f47b50","#9a2b9a","#2a2a7e"]},"legend":null},"detail":{"field":"s"}}},
  {"data":{"name":"lab"},"transform":[{"filter":"datum.p==5"}],"mark":{"type":"text","align":"left","baseline":"alphabetic","font":"Liberation Sans","fontSize":21},"encoding":{"text":{"field":"t"},"color":{"field":"g","type":"nominal","legend":null}}}
 ]
},
{
 "width":444.6,"height":139,
 "encoding":{
  "x":{"field":"d","type":"quantitative","scale":{"domain":[-10,210],"nice":false,"zero":false},"axis":{"values":[0,50,100,150,200],"title":"days","titlePadding":11.6}},
  "y":{"field":"v","type":"quantitative","scale":{"domain":[0.3895,2.4246],"nice":false,"zero":false},"axis":{"values":[1,2],"title":["corticotroph","functional mass"],"titlePadding":2.6,"titleY":79.3}}
 },
 "layer":[
  {"data":{"name":"base"},"transform":[{"filter":"datum.p==6"}],"mark":{"type":"rule","color":"#000","strokeWidth":1.4,"strokeDash":[1.5,3]},"encoding":{"x2":{"field":"d2"}}},
  {"data":{"name":"c"},"transform":[{"filter":"datum.p==6"}],"mark":{"type":"line","interpolate":"monotone","strokeWidth":2.8},"encoding":{"color":{"field":"g","type":"nominal","scale":{"domain":["weak","moderate","strong"],"range":["#f47b50","#9a2b9a","#2a2a7e"]},"legend":null},"detail":{"field":"s"}}},
  {"data":{"name":"lab"},"transform":[{"filter":"datum.p==6"}],"mark":{"type":"text","align":"left","baseline":"alphabetic","font":"Liberation Sans","fontSize":21},"encoding":{"text":{"field":"t"},"color":{"field":"g","type":"nominal","legend":null}}}
 ]
}
]
}
